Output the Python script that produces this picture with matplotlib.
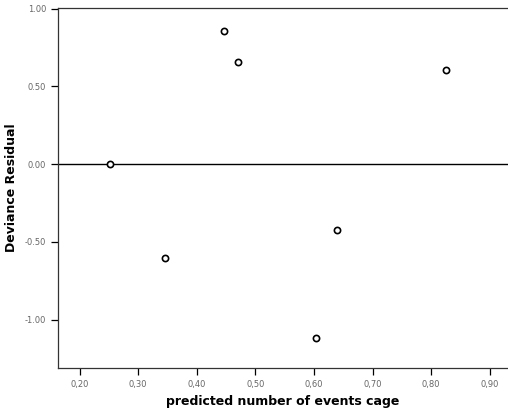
import matplotlib.pyplot as plt
from matplotlib.ticker import FuncFormatter

# predicted number of events vs deviance residual
predicted = [0.252, 0.346, 0.447, 0.471, 0.604, 0.640, 0.825]
residual = [0.00, -0.60, 0.855, 0.655, -1.12, -0.425, 0.605]

x_ticks = [0.20, 0.30, 0.40, 0.50, 0.60, 0.70, 0.80, 0.90]
y_ticks = [1.00, 0.50, 0.00, -0.50, -1.00]

fig = plt.figure(figsize=(5.08, 4.13), dpi=100)
ax = fig.add_axes([0.114, 0.109, 0.886, 0.872])

ax.axhline(0, color='black', lw=1.0, zorder=1)
ax.scatter(predicted, residual, s=20, facecolors='white', edgecolors='black',
           linewidths=1.2, zorder=3)

ax.set_xlim(0.163, 0.931)
ax.set_ylim(-1.31, 1.005)
ax.set_xticks(x_ticks)
ax.set_yticks(y_ticks)
ax.xaxis.set_major_formatter(FuncFormatter(lambda v, p: ('%.2f' % v).replace('.', ',')))
ax.yaxis.set_major_formatter(FuncFormatter(lambda v, p: '%.2f' % v))
ax.tick_params(axis='both', labelsize=6, labelcolor='#666666', length=5, width=0.9,
               direction='out', color='black')

ax.spines['right'].set_visible(False)
for s in ['top', 'left', 'bottom']:
    ax.spines[s].set_linewidth(0.9)
    ax.spines[s].set_color('#333333')

ax.set_xlabel('predicted number of events cage', fontsize=9, fontweight='bold')
ax.xaxis.set_label_coords(0.5, -0.075)
ax.set_ylabel('Deviance Residual', fontsize=9, fontweight='semibold')
ax.yaxis.set_label_coords(-0.088, 0.5)

fig.savefig('out.png', dpi=100)
